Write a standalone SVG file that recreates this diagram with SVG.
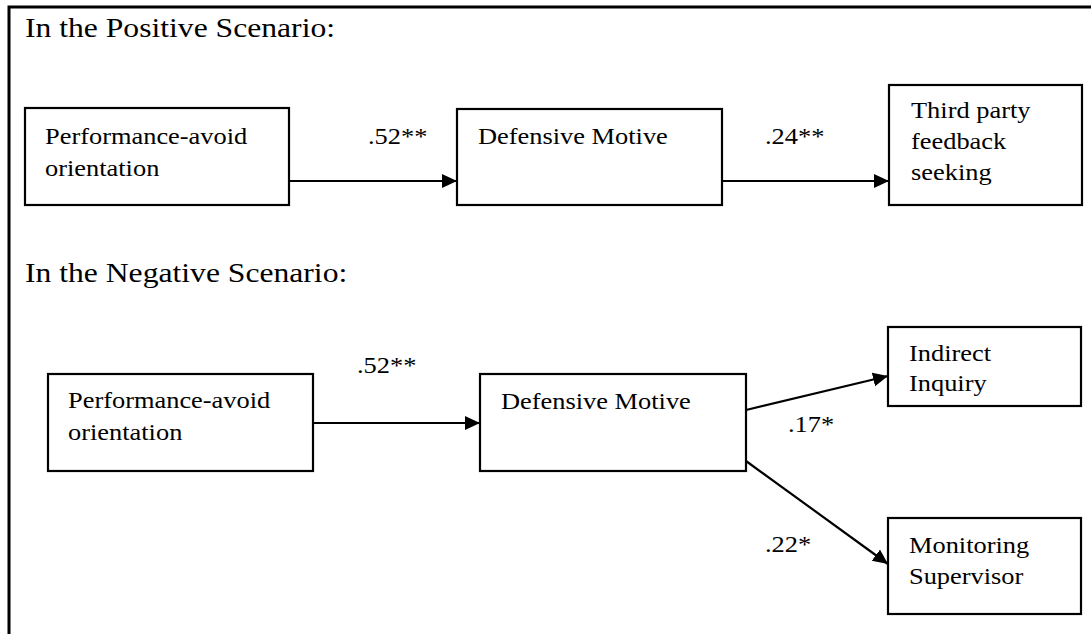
<svg xmlns="http://www.w3.org/2000/svg" width="1091" height="634" viewBox="0 0 1091 634">
<defs>
<style>
.t{font-family:"Liberation Serif","Times New Roman",serif;font-size:24px;fill:#000}
.h{font-family:"Liberation Serif","Times New Roman",serif;font-size:28px;fill:#000}
.box{fill:#fff;stroke:#000;stroke-width:2.2}
.c{stroke:#000;stroke-width:2.2;fill:none;marker-end:url(#ah)}
</style>
<marker id="ah" markerUnits="userSpaceOnUse" markerWidth="16" markerHeight="15" refX="15" refY="7" orient="auto">
<path d="M0,0 L15,7 L0,14 z" fill="#000"/>
</marker>
</defs>
<rect width="1091" height="634" fill="#fff"/>
<path d="M9,634 V7 H1091" fill="none" stroke="#000" stroke-width="3"/>

<text class="h" transform="translate(25,37) scale(1.13,1)">In the Positive Scenario:</text>
<text class="h" transform="translate(25,282) scale(1.13,1)">In the Negative Scenario:</text>

<g id="connectors">
<line class="c" x1="289" y1="181" x2="457" y2="181"/>
<line class="c" x1="722" y1="181" x2="889" y2="181"/>
<line class="c" x1="313" y1="423" x2="480" y2="423"/>
<line class="c" x1="746" y1="410" x2="888" y2="376"/>
<line class="c" x1="746" y1="461" x2="888" y2="564"/>
<text class="t" transform="translate(368,144) scale(1.1,1)">.52**</text>
<text class="t" transform="translate(765,144) scale(1.1,1)">.24**</text>
<text class="t" transform="translate(357,373) scale(1.1,1)">.52**</text>
<text class="t" transform="translate(788,432) scale(1.1,1)">.17*</text>
<text class="t" transform="translate(765,552) scale(1.1,1)">.22*</text>
</g>

<g id="p-perf">
<rect class="box" x="25" y="108" width="264" height="97"/>
<text class="t" transform="translate(45,144) scale(1.1,1)">Performance-avoid</text>
<text class="t" transform="translate(45,176) scale(1.1,1)">orientation</text>
</g>
<g id="p-def">
<rect class="box" x="457" y="109" width="265" height="96"/>
<text class="t" transform="translate(478,144) scale(1.1,1)">Defensive Motive</text>
</g>
<g id="p-third">
<rect class="box" x="889" y="85" width="193" height="120"/>
<text class="t" transform="translate(911,118) scale(1.1,1)">Third party</text>
<text class="t" transform="translate(911,149) scale(1.1,1)">feedback</text>
<text class="t" transform="translate(911,180) scale(1.1,1)">seeking</text>
</g>

<g id="n-perf">
<rect class="box" x="48" y="374" width="265" height="97"/>
<text class="t" transform="translate(68,408) scale(1.1,1)">Performance-avoid</text>
<text class="t" transform="translate(68,440) scale(1.1,1)">orientation</text>
</g>
<g id="n-def">
<rect class="box" x="480" y="374" width="266" height="97"/>
<text class="t" transform="translate(501,409) scale(1.1,1)">Defensive Motive</text>
</g>
<g id="n-indirect">
<rect class="box" x="888" y="327" width="193" height="79"/>
<text class="t" transform="translate(909,361) scale(1.1,1)">Indirect</text>
<text class="t" transform="translate(909,391) scale(1.1,1)">Inquiry</text>
</g>
<g id="n-monitor">
<rect class="box" x="888" y="518" width="193" height="96"/>
<text class="t" transform="translate(909,553) scale(1.1,1)">Monitoring</text>
<text class="t" transform="translate(909,584) scale(1.1,1)">Supervisor</text>
</g>
</svg>
